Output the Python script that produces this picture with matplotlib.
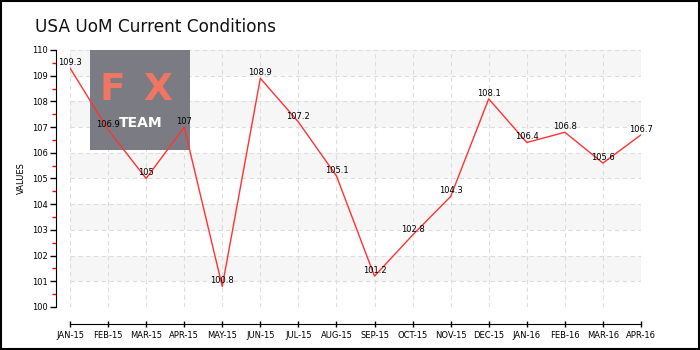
import matplotlib
matplotlib.use('Agg')
import matplotlib.pyplot as plt
from matplotlib.patches import Rectangle

months = ['JAN-15', 'FEB-15', 'MAR-15', 'APR-15', 'MAY-15', 'JUN-15', 'JUL-15', 'AUG-15',
          'SEP-15', 'OCT-15', 'NOV-15', 'DEC-15', 'JAN-16', 'FEB-16', 'MAR-16', 'APR-16']
values = [109.3, 106.9, 105, 107, 100.8, 108.9, 107.2, 105.1,
          101.2, 102.8, 104.3, 108.1, 106.4, 106.8, 105.6, 106.7]
labels = ['109.3', '106.9', '105', '107', '100.8', '108.9', '107.2', '105.1',
          '101.2', '102.8', '104.3', '108.1', '106.4', '106.8', '105.6', '106.7']

fig = plt.figure(figsize=(7, 3.5), dpi=100)
fig.patch.set_facecolor('white')
# outer frame
fig.add_artist(Rectangle((0.002, 0.003), 0.996, 0.994, transform=fig.transFigure,
                         fill=False, edgecolor='black', linewidth=1.5))

ax = fig.add_axes([70/700, 43/350, 571/700, 257/350])
ax.set_facecolor('none')

# spines first (set_position resets ticks)
for s in ['top', 'right']:
    ax.spines[s].set_visible(False)
ax.spines['left'].set_position(('outward', 10))
ax.spines['bottom'].set_position(('outward', 12))

x = list(range(len(months)))
ax.set_xlim(0, len(months) - 1)
ax.set_ylim(100, 110)
ax.spines['left'].set_bounds(100, 110)
ax.spines['bottom'].set_bounds(0, len(months) - 1)

# alternating bands
for lo in [101, 103, 105, 107, 109]:
    ax.axhspan(lo, lo + 1, color='#f6f6f6', zorder=0, linewidth=0)

ax.grid(True, color='#dddddd', linestyle=(0, (4, 3)), linewidth=0.8, zorder=0.5)
ax.set_axisbelow(True)

# logo
ax.add_patch(Rectangle((20/571, 157/257), 100/571, 100/257, transform=ax.transAxes,
                       facecolor='#7b7b83', edgecolor='none', zorder=1))
ax.text(42/571, 217/257, 'F', transform=ax.transAxes, ha='center', va='center',
        color='#f07563', fontsize=27, fontweight='bold', zorder=1.5)
ax.text(88/571, 217/257, 'X', transform=ax.transAxes, ha='center', va='center',
        color='#f07563', fontsize=27, fontweight='bold', zorder=1.5)
ax.text(71/571, 184/257, 'TEAM', transform=ax.transAxes, ha='center', va='center',
        color='white', fontsize=10, fontweight='bold', zorder=1.5)

ax.plot(x, values, color='#ff3333', linewidth=1, zorder=3)
for xi, v, s in zip(x, values, labels):
    ax.annotate(s, (xi, v), xytext=(0, 4), textcoords='offset points',
                ha='center', va='center', fontsize=6, zorder=4)

ax.set_xticks(x)
ax.set_xticklabels(months, fontsize=6)
ax.set_yticks(range(100, 111))
ax.set_yticklabels([str(v) for v in range(100, 111)], fontsize=6)
ax.set_yticks([v + 0.5 for v in range(100, 110)], minor=True)
ax.tick_params(axis='y', which='major', length=4, width=1, direction='out', pad=2)
ax.tick_params(axis='y', which='minor', length=3, width=1, color='red', direction='out')
ax.tick_params(axis='x', which='major', length=5, width=1, direction='inout', pad=3)

ax.set_ylabel('VALUES', fontsize=6, labelpad=4)

fig.text(35/700, 1 - 27/350, 'USA UoM Current Conditions', fontsize=12.2,
         color='#111111', va='center', ha='left')

fig.savefig('out.png', dpi=100)
